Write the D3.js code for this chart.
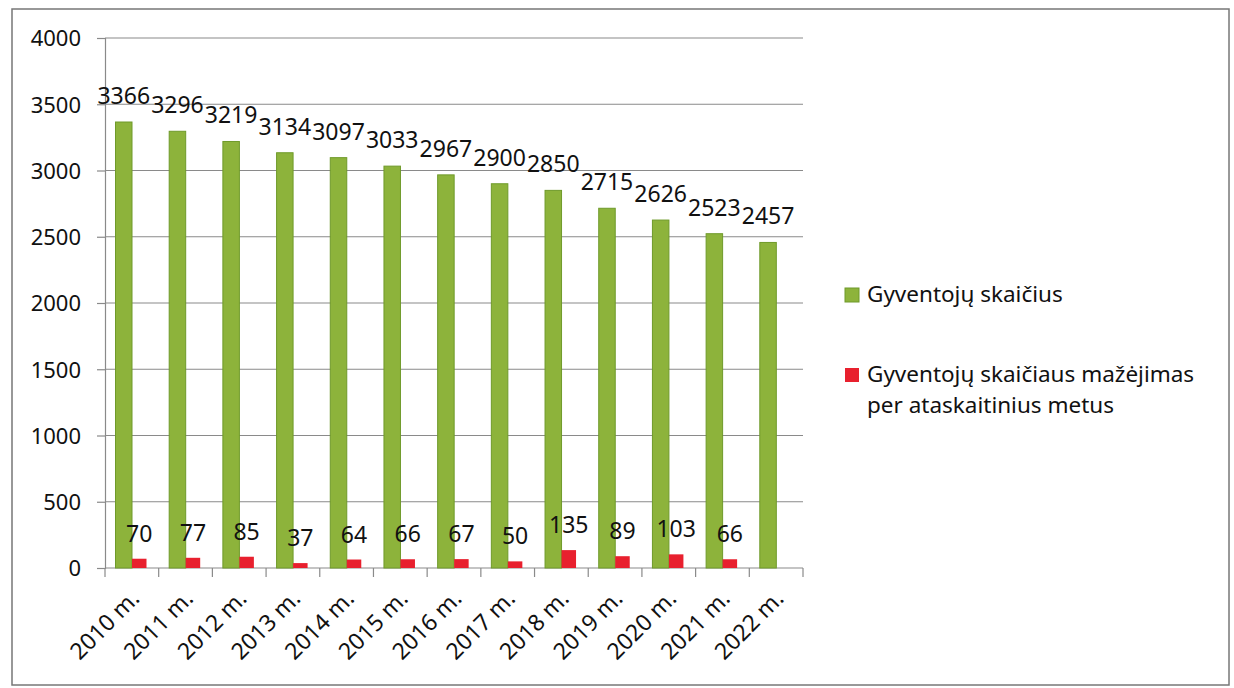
<!DOCTYPE html>
<html>
<head>
<meta charset="utf-8">
<script src="https://cdn.jsdelivr.net/npm/d3@7"></script>
<style>
  body { margin: 0; background: #fff; }
  text { font-family: "Noto Sans", "Open Sans", sans-serif; fill: #111; }
</style>
</head>
<body>
<div id="chart"></div>
<script>
// data
var years = ["2010 m.", "2011 m.", "2012 m.", "2013 m.", "2014 m.", "2015 m.", "2016 m.",
             "2017 m.", "2018 m.", "2019 m.", "2020 m.", "2021 m.", "2022 m."];
var population = [3366, 3296, 3219, 3134, 3097, 3033, 2967, 2900, 2850, 2715, 2626, 2523, 2457];
var decrease = [70, 77, 85, 37, 64, 66, 67, 50, 135, 89, 103, 66, null];
var yTicks = [0, 500, 1000, 1500, 2000, 2500, 3000, 3500, 4000];
var seriesNames = ["Gyventojų skaičius", "Gyventojų skaičiaus mažėjimas", "per ataskaitinius metus"];

var width = 1234, height = 688;
var margin = {top: 38, left: 105};
var plotW = 698, plotH = 530;
var green = "#8db33b", greenEdge = "#6f9a2a", red = "#e8202e";

var svg = d3.select("#chart").append("svg")
    .attr("width", width)
    .attr("height", height);

// outer frame
svg.append("rect")
    .attr("x", 12).attr("y", 9)
    .attr("width", 1217).attr("height", 676)
    .attr("fill", "none")
    .attr("stroke", "#777")
    .attr("stroke-width", 1.5);

var g = svg.append("g")
    .attr("transform", "translate(" + margin.left + "," + margin.top + ")");

var x = d3.scaleBand().domain(years).range([0, plotW]);
var y = d3.scaleLinear().domain([0, 4000]).range([plotH, 0]);

//gridlines
g.selectAll(".grid")
    .data(yTicks.slice(1))
    .enter().append("line")
    .attr("x1", 0).attr("x2", plotW)
    .attr("y1", function(d){ return y(d); })
    .attr("y2", function(d){ return y(d); })
    .attr("stroke", "#8a8a8a")
    .attr("stroke-width", 1.2);

// y axis
var yAxis = g.append("g")
    .call(d3.axisLeft(y).tickValues(yTicks).tickFormat(d3.format("d")).tickSize(8).tickPadding(16));
yAxis.select(".domain").attr("stroke", "#8a8a8a").attr("stroke-width", 1.2);
yAxis.selectAll(".tick line").attr("stroke", "#8a8a8a").attr("stroke-width", 1.2);
yAxis.selectAll("text")
    .style("font-size", "22px")
    .attr("fill", "#111")
    .attr("dy", "0.36em");

// x axis : ticks on the band edges
var xAxis = g.append("g").attr("transform", "translate(0," + plotH + ")");
xAxis.append("line")
    .attr("x1", 0).attr("x2", plotW)
    .attr("stroke", "#8a8a8a").attr("stroke-width", 1.2);
xAxis.selectAll(".edge")
    .data(d3.range(years.length + 1))
    .enter().append("line")
    .attr("x1", function(i){ return i * x.bandwidth(); })
    .attr("x2", function(i){ return i * x.bandwidth(); })
    .attr("y1", 0).attr("y2", 9)
    .attr("stroke", "#8a8a8a").attr("stroke-width", 1.2);
xAxis.selectAll(".lbl")
    .data(years)
    .enter().append("text")
    .attr("transform", function(d){
        return "translate(" + (x(d) + x.bandwidth() / 2 + 9) + ",32) rotate(-45)";
    })
    .attr("text-anchor", "end")
    .style("font-size", "23px")
    .text(function(d){ return d; });

var barW = 16.5, gOff = 10.5;

// population bars
g.selectAll(".pop")
    .data(population)
    .enter().append("rect")
    .attr("x", function(d, i){ return x(years[i]) + gOff; })
    .attr("y", function(d){ return y(d); })
    .attr("width", barW)
    .attr("height", function(d){ return plotH - y(d); })
    .attr("fill", green)
    .attr("stroke", greenEdge)
    .attr("stroke-width", 1);

g.selectAll(".popLbl")
    .data(population)
    .enter().append("text")
    .attr("x", function(d, i){ return x(years[i]) + gOff + barW / 2; })
    .attr("y", function(d){ return y(d) - 18; })
    .attr("text-anchor", "middle")
    .style("font-size", "23px")
    .text(function(d){ return d; });

// decrease bars
var dec = decrease.map(function(d, i){ return {v: d, yr: years[i]}; })
    .filter(function(d){ return d.v != null; });

g.selectAll(".dec")
    .data(dec)
    .enter().append("rect")
    .attr("x", function(d){ return x(d.yr) + gOff + barW; })
    .attr("y", function(d){ return y(d.v); })
    .attr("width", barW - 2)
    .attr("height", function(d){ return plotH - y(d.v); })
    .attr("fill", red);

g.selectAll(".decLbl")
    .data(dec)
    .enter().append("text")
    .attr("x", function(d){ return x(d.yr) + gOff + barW + (barW - 2) / 2; })
    .attr("y", function(d){ return y(d.v) - 17; })
    .attr("text-anchor", "middle")
    .style("font-size", "23px")
    .text(function(d){ return d.v; });

// legend
var legend = svg.append("g").attr("transform", "translate(845,0)");
legend.append("rect")
    .attr("x", 0).attr("y", 288).attr("width", 14).attr("height", 14)
    .attr("fill", green).attr("stroke", greenEdge);
legend.append("text")
    .attr("x", 22).attr("y", 302)
    .style("font-size", "22.5px")
    .text(seriesNames[0]);
legend.append("rect")
    .attr("x", 0).attr("y", 368).attr("width", 14).attr("height", 14)
    .attr("fill", red);
legend.append("text")
    .attr("x", 22).attr("y", 382)
    .style("font-size", "22.5px")
    .text(seriesNames[1]);
legend.append("text")
    .attr("x", 22).attr("y", 413)
    .style("font-size", "22.5px")
    .text(seriesNames[2]);
</script>
</body>
</html>
